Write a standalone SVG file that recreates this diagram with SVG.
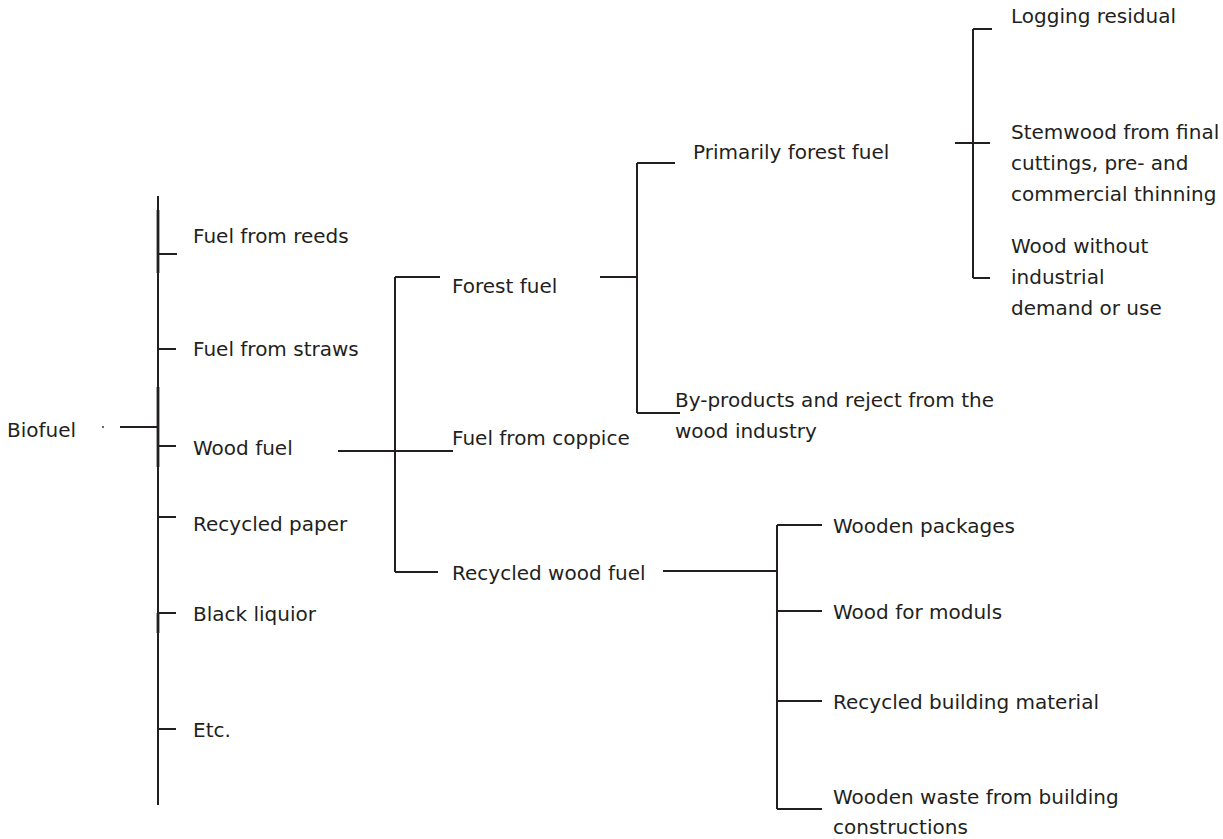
<svg xmlns="http://www.w3.org/2000/svg" width="1223" height="839" viewBox="0 0 1223 839">
<style>
text{font-family:"DejaVu Sans","Liberation Sans",sans-serif;font-size:20px;fill:#231f20}
.c line{stroke:#231f20;stroke-width:2;fill:none}
.c .thick{stroke-width:2.8}
</style>
<rect width="1223" height="839" fill="#ffffff"/>
<g class="c" id="connectors">
<line x1="158" y1="196" x2="158" y2="805"/>
<line class="thick" x1="158" y1="210" x2="158" y2="273"/>
<line class="thick" x1="158" y1="387" x2="158" y2="467"/>
<line class="thick" x1="158" y1="613" x2="158" y2="633"/>
<line x1="120" y1="427" x2="158" y2="427"/>
<line x1="158" y1="254" x2="177" y2="254"/>
<line x1="158" y1="349" x2="176" y2="349"/>
<line x1="158" y1="446" x2="176" y2="446"/>
<line x1="158" y1="517" x2="176" y2="517"/>
<line x1="158" y1="613" x2="176" y2="613"/>
<line x1="158" y1="729" x2="176" y2="729"/>
<line x1="338" y1="451" x2="453" y2="451"/>
<line x1="395" y1="277" x2="395" y2="572"/>
<line x1="395" y1="277" x2="440" y2="277"/>
<line x1="395" y1="572" x2="438" y2="572"/>
<line x1="600" y1="277" x2="637" y2="277"/>
<line x1="637" y1="163" x2="637" y2="413"/>
<line x1="637" y1="163" x2="675" y2="163"/>
<line x1="637" y1="413" x2="680" y2="413"/>
<line x1="973" y1="29" x2="973" y2="278"/>
<line x1="973" y1="29" x2="992" y2="29"/>
<line x1="955" y1="143" x2="990" y2="143"/>
<line x1="973" y1="278" x2="990" y2="278"/>
<line x1="663" y1="571" x2="777" y2="571"/>
<line x1="777" y1="525" x2="777" y2="809"/>
<line x1="777" y1="525" x2="822" y2="525"/>
<line x1="777" y1="611" x2="822" y2="611"/>
<line x1="777" y1="701" x2="822" y2="701"/>
<line x1="777" y1="809" x2="822" y2="809"/>
</g>
<g id="biofuel"><text x="7" y="437">Biofuel</text><circle cx="103" cy="427" r="0.9" fill="#231f20"/></g>
<g id="reeds"><text x="193" y="243">Fuel from reeds</text></g>
<g id="straws"><text x="193" y="356">Fuel from straws</text></g>
<g id="woodfuel"><text x="193" y="455">Wood fuel</text></g>
<g id="paper"><text x="193" y="531">Recycled paper</text></g>
<g id="liquior"><text x="193" y="621">Black liquior</text></g>
<g id="etc"><text x="193" y="737">Etc.</text></g>
<g id="forestfuel"><text x="452" y="293">Forest fuel</text></g>
<g id="coppice"><text x="452" y="445">Fuel from coppice</text></g>
<g id="recycledwood"><text x="452" y="580">Recycled wood fuel</text></g>
<g id="primarily"><text x="693" y="159">Primarily forest fuel</text></g>
<g id="byproducts"><text x="675" y="407">By-products and reject from the</text><text x="675" y="438">wood industry</text></g>
<g id="logging"><text x="1011" y="23">Logging residual</text></g>
<g id="stemwood"><text x="1011" y="139">Stemwood from final</text><text x="1011" y="170">cuttings, pre- and</text><text x="1011" y="201">commercial thinning</text></g>
<g id="nodemand"><text x="1011" y="253">Wood without</text><text x="1011" y="284">industrial</text><text x="1011" y="315">demand or use</text></g>
<g id="packages"><text x="833" y="533">Wooden packages</text></g>
<g id="moduls"><text x="833" y="619">Wood for moduls</text></g>
<g id="building"><text x="833" y="709">Recycled building material</text></g>
<g id="waste"><text x="833" y="804">Wooden waste from building</text><text x="833" y="834">constructions</text></g>
</svg>
